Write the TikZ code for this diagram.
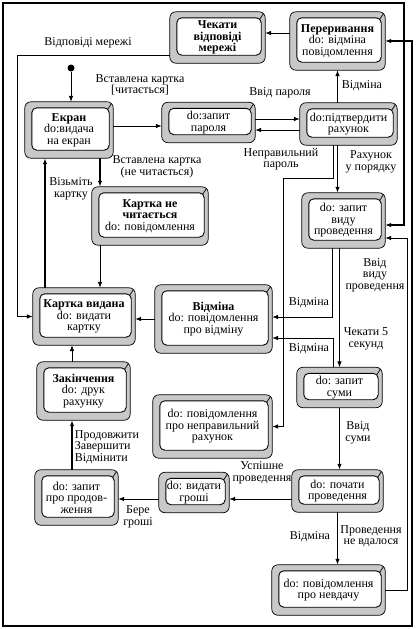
\documentclass[tikz,border=0pt]{standalone}
\usepackage{fontspec}
\setmainfont{Liberation Serif}
\usepackage{tikz}
\usetikzlibrary{arrows.meta,backgrounds,calc}
\definecolor{shellgrey}{HTML}{C8C8C8}

\begin{document}
\begin{tikzpicture}[
  x=1pt, y=-1pt,
  >={Latex[length=6pt,width=4.5pt]},
  every node/.style={font=\fontsize{12}{11.5}\selectfont},
  state/.style={rectangle, align=center, inner sep=0pt},
  shell/.style={draw, fill=shellgrey, rounded corners=6pt, line width=0.7pt},
  core/.style={draw, fill=white, rounded corners=5pt, line width=0.9pt},
  lbl/.style={align=center, inner sep=1pt},
  arr/.style={->, line width=0.7pt},
  heavy/.style={line width=1.3pt},
  frame/.style={line width=1.1pt}
]
\useasboundingbox (0,0) rectangle (418,629);

% ---- states ----
\node[state, minimum width=95pt, minimum height=51pt] (wait) at (217.5,37.5) {\textbf{Чекати}\\\textbf{відповіді}\\\textbf{мережі}};
\node[state, minimum width=95pt, minimum height=58pt] (intr) at (337.5,41) {\textbf{Переривання}\\do: відміна\\повідомлення};
\node[circle, fill, inner sep=0pt, minimum size=7pt] (init) at (71,68) {};
\node[state, minimum width=88pt, minimum height=56pt] (scr) at (69,130) {\textbf{Екран}\\do:видача\\на екран};
\node[state, minimum width=93pt, minimum height=40pt] (pwd) at (208.5,122.5) {do:запит\\пароля};
\node[state, minimum width=97pt, minimum height=42pt] (confirm) at (348.5,124) {do:підтвердити\\рахунок};
\node[state, minimum width=116pt, minimum height=58pt] (unread) at (150,216) {\textbf{Картка не}\\\textbf{читається}\\do: повідомлення};
\node[state, minimum width=83pt, minimum height=55pt] (kind) at (343.5,220.5) {do: запит\\виду\\проведення};
\node[state, minimum width=102pt, minimum height=57pt] (issued) at (84,316.5) {\textbf{Картка видана}\\do: видати\\картку};
\node[state, minimum width=117pt, minimum height=68pt] (cancel) at (213.5,319) {\textbf{Відміна}\\do: повідомлення\\про відміну};
\node[state, minimum width=85pt, minimum height=40pt] (sum) at (339.5,387.5) {do: запит\\суми};
\node[state, minimum width=93pt, minimum height=58pt] (fin) at (83.5,391) {\textbf{Закінчення}\\do: друк\\рахунку};
\node[state, minimum width=119pt, minimum height=63pt] (badacc) at (212.5,426.5) {do: повідомлення\\про неправильний\\рахунок};
\node[state, minimum width=91pt, minimum height=42pt] (start) at (337.5,491) {do: почати\\проведення};
\node[state, minimum width=70pt, minimum height=40pt] (cash) at (194,492.5) {do: видати\\гроші};
\node[state, minimum width=83pt, minimum height=55pt] (cont) at (76.5,497.5) {do: запит\\про продов-\\ження};
\node[state, minimum width=113pt, minimum height=50pt] (fail) at (328.5,590) {do: повідомлення\\про невдачу};

% ---- 3d shells behind the states ----
\begin{pgfonlayer}{background}
\foreach \n in {wait,intr,scr,pwd,confirm,unread,kind,issued,cancel,sum,fin,badacc,start,cash,cont,fail} {
  \draw[shell] (\n.south west) rectangle (\n.north east);
  \draw[core] ([shift={(7,-8)}]\n.south west) rectangle ([shift={(-4,6)}]\n.north east);
  \draw[line width=0.7pt] ([shift={(-5.5,7.5)}]\n.north east) -- ([shift={(-1.8,1.8)}]\n.north east);
}
\end{pgfonlayer}

% ---- frame ----
\coordinate (tl) at (3,3);
\coordinate (tr) at (404,3);
\coordinate (bl) at (3,626);
\coordinate (br) at (412,626);
\draw[frame, <->] ([yshift=-4.5pt]kind.east) -| (tr) -- (tl) -- (bl) -- (br) |- (intr.east);

% ---- card and password ----
\draw[arr] (init) -- (init |- scr.north);
\coordinate (netL) at (17,55);
\draw[arr] (wait.west |- netL) -- (netL) |- (issued.west);
\path ([yshift=8pt]intr.west) coordinate (i1);
\draw[arr] (i1) -- (i1 -| wait.east);
\path ([yshift=4pt]scr.east) coordinate (s1);
\draw[arr] (s1) -- (s1 -| pwd.west);
\path ([yshift=3.5pt]pwd.east) coordinate (p1);
\draw[arr] (p1) -- (p1 -| confirm.west);
\path ([yshift=-6pt]confirm.west) coordinate (p2);
\draw[arr] (p2) -- (p2 -| pwd.east);
\draw[arr] (intr.south |- confirm.north) -- (intr.south);
\path ([xshift=-6pt]kind.north) coordinate (k1);
\draw[arr, heavy] (k1 |- confirm.south) -- (k1);
\coordinate (b1) at (283,178);
\draw[arr] ([xshift=-15.5pt]confirm.south) |- (b1) |- (badacc.east);

\path ([xshift=31pt]scr.south) coordinate (u1);
\draw[arr, heavy] (u1) -- (u1 |- unread.north);
\draw[arr] (u1 |- unread.south) -- (u1 |- issued.north);
\path ([xshift=-39pt]issued.north) coordinate (v1);
\draw[arr, heavy] (v1) -- (v1 |- scr.south);

% ---- transaction ----
\draw[arr] (cancel.west) -- (cancel.west -| issued.east);
\draw[arr] ([xshift=-11.5pt]kind.south) |- ([yshift=2pt]cancel.east);
\draw[arr] ([xshift=-6.5pt]sum.north) |- ([yshift=-19pt]cancel.east);
\draw[arr] (sum.north |- kind.south) -- (sum.north);
\draw[arr, heavy] (sum.south) -- (sum.south |- start.north);
\path ([yshift=-8pt]start.west) coordinate (c1);
\draw[arr] (c1) -- (c1 -| cash.east);
\draw[arr] (c1 -| cash.west) -- (c1 -| cont.east);
\draw[arr, heavy] (start.south) -- (start.south |- fail.north);
\coordinate (rr) at (407,238);
\draw[arr] (fail.east) -| (rr) -- (rr -| kind.east);
\path ([xshift=-4.5pt]cont.north) coordinate (f1);
\draw[arr, heavy] (f1) -- (f1 |- fin.south);
\draw[arr] (f1 |- fin.north) -- (f1 |- issued.south);

% ---- labels ----
\node[lbl] (lNet) at (88,43) {Відповіді мережі};
\node[lbl] (lIn) at (140,85) {Вставлена картка\\{[читається]}};
\node[lbl] (lPwd) at (280,93) {Ввід пароля};
\node[lbl] (lBad) at (281,159) {Неправильний\\пароль};
\node[lbl] (lCan1) at (362,86) {Відміна};
\node[lbl] (lOk) at (371,162) {Рахунок\\у порядку};
\node[lbl] (lNo) at (157,167) {Вставлена картка\\(не читається)};
\node[lbl] (lTake) at (71,189) {Візьміть\\картку};
\node[lbl] (lKind) at (375,275) {Ввід\\виду\\проведення};
\node[lbl] (lCan2) at (309,303) {Відміна};
\node[lbl] (lCan3) at (309,349) {Відміна};
\node[lbl] (lWait) at (366,339) {Чекати 5\\секунд};
\node[lbl] (lSum) at (358,433) {Ввід\\суми};
\node[lbl] (lOkTx) at (262,473) {Успішне\\проведення};
\node[lbl] (lCan4) at (310,537) {Відміна};
\node[lbl] (lFail) at (371,536) {Проведення\\не вдалося};
\node[lbl] (lCash) at (138,517) {Бере\\гроші};
\node[lbl, align=left] (lNext) at (107,447) {Продовжити\\Завершити\\Відмінити};

\end{tikzpicture}
\end{document}
